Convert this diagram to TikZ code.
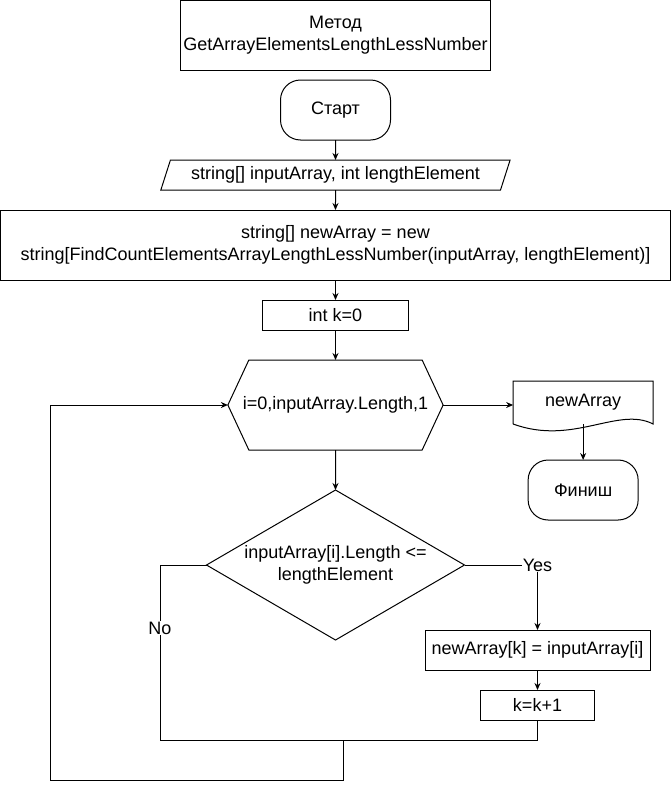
\documentclass[tikz,border=0pt]{standalone}
\usepackage{fontspec}
\setmainfont{Liberation Sans}
\usetikzlibrary{shapes,shapes.geometric,shapes.symbols,arrows.meta,positioning,calc}

\begin{document}
\begin{tikzpicture}[
    x=1pt, y=1pt, line width=1pt,
    font=\fontsize{18}{22}\selectfont,
    every node/.style={inner sep=0pt, outer sep=0pt, align=center},
    procbox/.style={rectangle, draw, minimum height=30pt},
    termbox/.style={rectangle, draw, rounded corners=20pt, minimum width=110pt, minimum height=60pt},
    iobox/.style={trapezium, draw, trapezium left angle=63.4, trapezium right angle=116.6, trapezium stretches=true, minimum width=350pt, minimum height=30pt},
    loopbox/.style={signal, draw, signal to=east and west, signal pointer angle=130, inner xsep=-6pt, minimum height=90pt},
    condbox/.style={diamond, draw, aspect=1.72, minimum width=258pt, minimum height=150pt},
    lbl/.style={fill=white, inner sep=1pt},
    arrow/.style={-{Stealth[length=7pt,width=6pt]}}
  ]
    \useasboundingbox (0,0) rectangle (671,-790);

    \node[procbox, minimum width=310pt, minimum height=70pt] (title) at (335.5,-35) {Метод\\GetArrayElementsLengthLessNumber};
    \node[termbox, below=10pt of title] (start) {Старт};
    \node[iobox, below=20pt of start] (input) {string[] inputArray, int lengthElement};
    \node[procbox, minimum width=670pt, minimum height=70pt, below=20pt of input] (alloc) {string[] newArray = new\\string[FindCountElementsArrayLengthLessNumber(inputArray, lengthElement)]};
    \node[procbox, minimum width=146pt, below=20pt of alloc] (init) {int k=0};
    \node[loopbox, below=30pt of init] (loop) {i=0,inputArray.Length,1};
    \node[condbox, below=40pt of loop] (cond) {inputArray[i].Length <=\\lengthElement};

    % output document and end
    \node[minimum width=140pt, minimum height=43pt, right=70pt of loop, yshift=2.5pt] (result) {newArray};
    \draw (result.south west) -- (result.north west) -- (result.north east) -- (result.south east)
      .. controls +(-35pt,18pt) and +(60pt,-22pt) .. (result.south west);
    \node[termbox, below=36pt of result] (finish) {Финиш};

    % loop body
    \node[procbox, minimum width=225pt, minimum height=40pt] (assign) at (537.5,-650) {newArray[k] = inputArray[i]};
    \node[procbox, minimum width=114pt, below=20pt of assign] (inc) {k=k+1};

    \coordinate (merge) at (343,-740);
    \coordinate (nojoin) at (160,-740);
    \coordinate (back) at (50,-780);

    \draw[arrow] (start) -- (input);
    \draw[arrow] (input) -- (alloc);
    \draw[arrow] (alloc) -- (init);
    \draw[arrow] (init) -- (loop);
    \draw[arrow] (loop) -- (cond);
    \draw[arrow] (loop.east) -- (loop.east -| result.west);
    \draw[arrow] (result.south) -- (finish);
    \draw[arrow] (cond.east) -| node[lbl] {Yes} (assign);
    \draw[arrow] (assign) -- (inc);
    \draw (inc) |- (merge);
    \draw (cond.west) -| node[lbl, pos=0.68] {No} (nojoin) -- (merge);
    \draw[arrow] (merge) |- (back) |- (loop.west);
\end{tikzpicture}
\end{document}
